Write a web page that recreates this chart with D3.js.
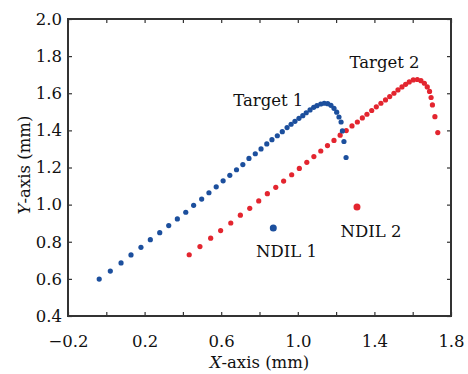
<!DOCTYPE html>
<html>
<head>
<meta charset="utf-8">
<script src="https://cdn.jsdelivr.net/npm/d3@7"></script>
<style>
  body { margin: 0; background: #fff; }
  svg text { font-family: "DejaVu Serif", serif; fill: #111; }
</style>
</head>
<body>
<div id="chart"></div>
<script>
// target 1 (blue) trace, mm
const target1X = [-0.037, 0.021, 0.077, 0.129, 0.181, 0.230, 0.279, 0.326, 0.371, 0.415,
  0.456, 0.498, 0.536, 0.574, 0.610, 0.645, 0.680, 0.713, 0.745, 0.778,
  0.808, 0.838, 0.865, 0.893, 0.919, 0.944, 0.965, 0.985, 1.006, 1.026,
  1.044, 1.064, 1.083, 1.100, 1.120, 1.138, 1.156, 1.173, 1.189, 1.203,
  1.215, 1.226, 1.233, 1.241, 1.252];
const target1Y = [0.599, 0.642, 0.686, 0.729, 0.770, 0.811, 0.849, 0.887, 0.923, 0.959,
  0.996, 1.030, 1.064, 1.096, 1.128, 1.158, 1.188, 1.216, 1.249, 1.274,
  1.300, 1.327, 1.350, 1.371, 1.393, 1.415, 1.433, 1.449, 1.465, 1.479,
  1.495, 1.510, 1.524, 1.533, 1.542, 1.546, 1.544, 1.535, 1.519, 1.498,
  1.472, 1.445, 1.397, 1.340, 1.254];

// target 2 (red) trace, mm
const target2X = [0.433, 0.489, 0.545, 0.597, 0.650, 0.700, 0.749, 0.796, 0.841, 0.885,
  0.926, 0.968, 1.008, 1.047, 1.084, 1.120, 1.155, 1.189, 1.221, 1.253,
  1.283, 1.311, 1.337, 1.361, 1.386, 1.410, 1.434, 1.458, 1.480, 1.502,
  1.523, 1.544, 1.563, 1.582, 1.603, 1.624, 1.643, 1.661, 1.676, 1.688,
  1.696, 1.703, 1.716, 1.731];
const target2Y = [0.730, 0.774, 0.819, 0.860, 0.901, 0.943, 0.980, 1.020, 1.059, 1.093,
  1.127, 1.161, 1.195, 1.228, 1.259, 1.289, 1.318, 1.346, 1.374, 1.399,
  1.424, 1.445, 1.467, 1.487, 1.507, 1.527, 1.546, 1.564, 1.582, 1.600,
  1.618, 1.634, 1.648, 1.661, 1.672, 1.674, 1.668, 1.654, 1.634, 1.610,
  1.577, 1.537, 1.474, 1.388];

// NDIL points
const ndilNames = ["NDIL 1", "NDIL 2"];
const ndilX = [0.872, 1.309];
const ndilY = [0.874, 0.987];

// annotation texts (anchor in mm)
const labelText = ["Target 1", "Target 2", "NDIL 1", "NDIL 2"];
const labelX = [0.846, 1.453, 0.941, 1.382];
const labelY = [1.533, 1.736, 0.718, 0.826];

const xTicks = [-0.2, 0, 0.2, 0.4, 0.6, 0.8, 1.0, 1.2, 1.4, 1.6, 1.8];
const xLabels = [-0.2, 0.2, 0.6, 1.0, 1.4, 1.8];
const yTicks = [0.4, 0.6, 0.8, 1.0, 1.2, 1.4, 1.6, 1.8, 2.0];

const blue = "#1c4f9d";
const red = "#e3252f";

const W = 468, H = 374;
const margin = {top: 19, right: 17, bottom: 58, left: 68};
const width = W - margin.left - margin.right;
const height = H - margin.top - margin.bottom;

const svg = d3.select("#chart").append("svg")
  .attr("width", W)
  .attr("height", H);

const g = svg.append("g")
  .attr("transform", `translate(${margin.left},${margin.top})`);

const x = d3.scaleLinear().domain([-0.2, 1.8]).range([0, width]);
const y = d3.scaleLinear().domain([0.4, 2.0]).range([height, 0]);

const fmt = d3.format(".1f");

// bottom axis
g.append("g")
  .attr("transform", `translate(0,${height})`)
  .call(d3.axisBottom(x).tickValues(xTicks).tickSizeInner(-4).tickSizeOuter(0).tickPadding(19)
    .tickFormat(d => xLabels.some(v => Math.abs(v - d) < 1e-6) ? fmt(d) : ""));

// left axis
g.append("g")
  .call(d3.axisLeft(y).tickValues(yTicks).tickSizeInner(-4).tickSizeOuter(0).tickPadding(6)
    .tickFormat(fmt));

// top + right ticks, no labels
g.append("g")
  .call(d3.axisTop(x).tickValues(xTicks).tickSizeInner(-4).tickSizeOuter(0).tickFormat(""));
g.append("g")
  .attr("transform", `translate(${width},0)`)
  .call(d3.axisRight(y).tickValues(yTicks).tickSizeInner(-4).tickSizeOuter(0).tickFormat(""));

g.selectAll(".domain").remove();
g.selectAll(".tick line").attr("stroke", "#333").attr("stroke-width", 1.2);
g.selectAll(".tick text")
  .style("font-family", "'DejaVu Serif', serif")
  .style("font-size", "16.5px")
  .attr("fill", "#111");

// frame
g.append("rect")
  .attr("width", width)
  .attr("height", height)
  .attr("fill", "none")
  .attr("stroke", "#333")
  .attr("stroke-width", 2);

// traces
const t1 = target1X.map((v, i) => [v, target1Y[i]]);
const t2 = target2X.map((v, i) => [v, target2Y[i]]);

g.append("g").selectAll("circle")
  .data(t2)
  .enter().append("circle")
  .attr("cx", d => x(d[0]))
  .attr("cy", d => y(d[1]))
  .attr("r", 2.6)
  .attr("fill", red);

g.append("g").selectAll("circle")
  .data(t1)
  .enter().append("circle")
  .attr("cx", d => x(d[0]))
  .attr("cy", d => y(d[1]))
  .attr("r", 2.6)
  .attr("fill", blue);

g.append("g").selectAll("circle")
  .data(ndilNames)
  .enter().append("circle")
  .attr("cx", (d, i) => x(ndilX[i]))
  .attr("cy", (d, i) => y(ndilY[i]))
  .attr("r", 3.5)
  .attr("fill", (d, i) => i === 0 ? blue : red);

// annotations
g.append("g").selectAll("text")
  .data(labelText)
  .enter().append("text")
  .attr("x", (d, i) => x(labelX[i]))
  .attr("y", (d, i) => y(labelY[i]))
  .attr("text-anchor", "middle")
  .style("font-size", "16.5px")
  .text(d => d);

// axis titles
const xt = svg.append("text")
  .attr("x", margin.left + width / 2)
  .attr("y", 368)
  .attr("text-anchor", "middle")
  .style("font-size", "16.5px");
xt.append("tspan").style("font-style", "italic").text("X");
xt.append("tspan").text("-axis (mm)");

const yt = svg.append("text")
  .attr("transform", "translate(30,165) rotate(-90)")
  .attr("text-anchor", "middle")
  .style("font-size", "16.5px");
yt.append("tspan").style("font-style", "italic").text("Y");
yt.append("tspan").text("-axis (mm)");
</script>
</body>
</html>
